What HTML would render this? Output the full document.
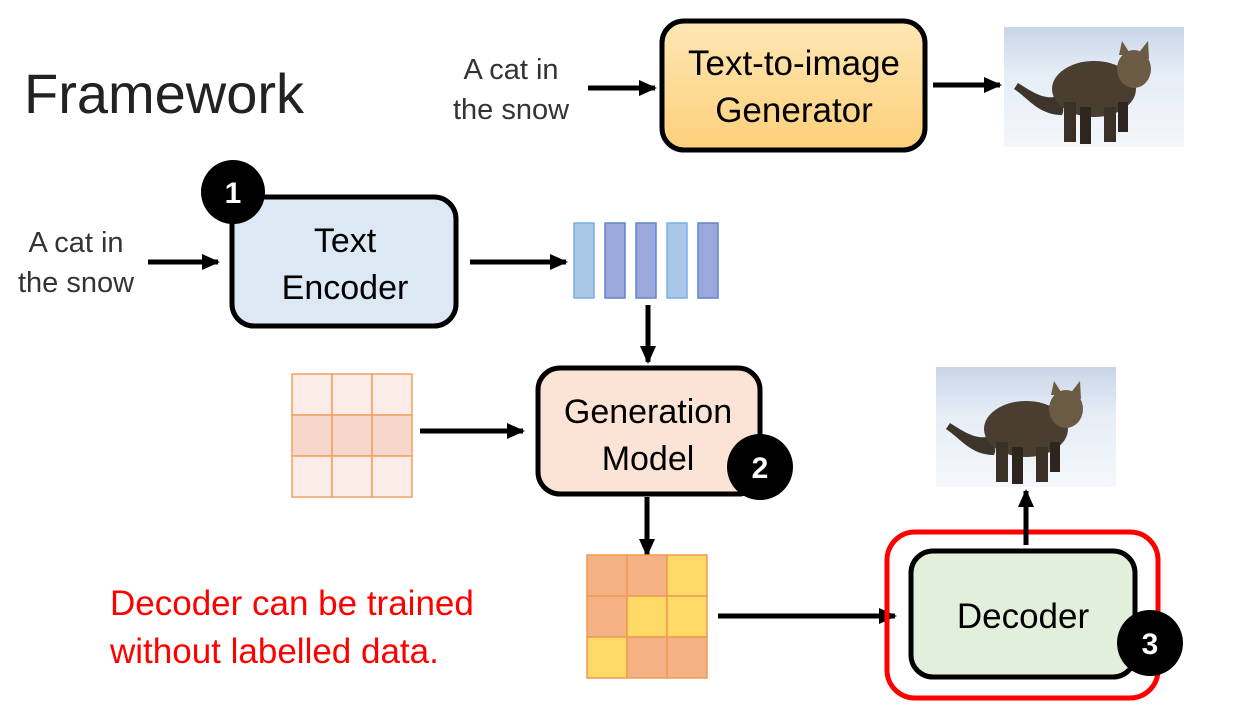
<!DOCTYPE html>
<html><head><meta charset="utf-8"><style>
html,body{margin:0;padding:0;background:#fff;}
svg{display:block;}
text{font-family:"Liberation Sans",sans-serif;}
</style></head><body>
<svg width="1241" height="710" viewBox="0 0 1241 710" xmlns="http://www.w3.org/2000/svg">
<defs>
<marker id="ah" markerWidth="18" markerHeight="16" refX="16" refY="8" orient="auto" markerUnits="userSpaceOnUse" viewBox="0 0 18 16">
<path d="M0,0 L18,8 L0,16 z" fill="#000"/></marker>
<linearGradient id="og" x1="0" y1="0" x2="0" y2="1"><stop offset="0" stop-color="#fde6b4"/><stop offset="1" stop-color="#fdd07a"/></linearGradient>
<linearGradient id="snow" x1="0" y1="0" x2="0" y2="1"><stop offset="0" stop-color="#c9d6e8"/><stop offset="0.4" stop-color="#e6edf6"/><stop offset="1" stop-color="#f4f7fb"/></linearGradient>
<g id="cat">
<rect x="0" y="0" width="180" height="120" fill="url(#snow)"/>
<path d="M10,62 C25,72 35,88 58,88 C62,80 56,74 50,70 C38,72 25,63 14,56 z" fill="#3d342b"/>
<ellipse cx="90" cy="62" rx="42" ry="28" fill="#4a3e31"/>
<ellipse cx="130" cy="42" rx="17" ry="19" fill="#6b5a44"/>
<path d="M115,28 L118,14 L127,28 z M133,28 L144,14 L145,32 z" fill="#6b5a44"/>
<rect x="60" y="75" width="12" height="40" fill="#3a3026"/>
<rect x="76" y="80" width="11" height="37" fill="#2e261e"/>
<rect x="100" y="80" width="12" height="35" fill="#3a3026"/>
<rect x="114" y="75" width="10" height="30" fill="#2e261e"/>
</g>
</defs>

<text x="24" y="113" font-size="56" fill="#222">Framework</text>

<text x="511" y="79" font-size="29" fill="#333" text-anchor="middle">A cat in</text>
<text x="511" y="119" font-size="29" fill="#333" text-anchor="middle">the snow</text>
<line x1="588" y1="88" x2="655" y2="88" stroke="#000" stroke-width="5" marker-end="url(#ah)"/>
<rect x="662" y="21" width="263" height="129" rx="22" fill="url(#og)" stroke="#000" stroke-width="5"/>
<text x="794" y="75" font-size="35" fill="#000" text-anchor="middle">Text-to-image</text>
<text x="794" y="122" font-size="35" fill="#000" text-anchor="middle">Generator</text>
<line x1="933" y1="85" x2="1000" y2="85" stroke="#000" stroke-width="5" marker-end="url(#ah)"/>
<use href="#cat" x="1004" y="27"/>

<text x="76" y="252" font-size="29" fill="#333" text-anchor="middle">A cat in</text>
<text x="76" y="292" font-size="29" fill="#333" text-anchor="middle">the snow</text>
<line x1="148" y1="262" x2="218" y2="262" stroke="#000" stroke-width="5" marker-end="url(#ah)"/>
<rect x="232" y="197" width="224" height="129" rx="22" fill="#dde8f5" stroke="#000" stroke-width="5"/>
<text x="345" y="252" font-size="34" fill="#000" text-anchor="middle">Text</text>
<text x="345" y="299" font-size="34" fill="#000" text-anchor="middle">Encoder</text>
<circle cx="233" cy="192" r="32" fill="#000"/>
<text x="233" y="203" font-size="30" font-weight="bold" fill="#fff" text-anchor="middle">1</text>
<line x1="470" y1="262" x2="566" y2="262" stroke="#000" stroke-width="5" marker-end="url(#ah)"/>

<rect x="574" y="223" width="20" height="75" fill="#a9c8e8" stroke="#7aaee0" stroke-width="1.5"/>
<rect x="605" y="223" width="20" height="75" fill="#9aa8dc" stroke="#6283d0" stroke-width="1.5"/>
<rect x="636" y="223" width="20" height="75" fill="#9aa8dc" stroke="#6283d0" stroke-width="1.5"/>
<rect x="667" y="223" width="20" height="75" fill="#a9c8e8" stroke="#7aaee0" stroke-width="1.5"/>
<rect x="698" y="223" width="20" height="75" fill="#9aa8dc" stroke="#6283d0" stroke-width="1.5"/>

<line x1="648" y1="305" x2="648" y2="362" stroke="#000" stroke-width="5" marker-end="url(#ah)"/>

<g stroke="#f0a060" stroke-width="1.5">
<rect x="292" y="374" width="40" height="41" fill="#fbece7"/>
<rect x="332" y="374" width="40" height="41" fill="#fbece7"/>
<rect x="372" y="374" width="40" height="41" fill="#fbece7"/>
<rect x="292" y="415" width="40" height="41" fill="#f7d7cc"/>
<rect x="332" y="415" width="40" height="41" fill="#f7d7cc"/>
<rect x="372" y="415" width="40" height="41" fill="#f7d7cc"/>
<rect x="292" y="456" width="40" height="41" fill="#fbece7"/>
<rect x="332" y="456" width="40" height="41" fill="#fbece7"/>
<rect x="372" y="456" width="40" height="41" fill="#fbece7"/>
</g>
<line x1="420" y1="431" x2="523" y2="431" stroke="#000" stroke-width="5" marker-end="url(#ah)"/>

<rect x="538" y="368" width="222" height="126" rx="22" fill="#fbe4d6" stroke="#000" stroke-width="5"/>
<text x="648" y="423" font-size="34" fill="#000" text-anchor="middle">Generation</text>
<text x="648" y="470" font-size="34" fill="#000" text-anchor="middle">Model</text>
<circle cx="760" cy="467" r="33" fill="#000"/>
<text x="760" y="478" font-size="30" font-weight="bold" fill="#fff" text-anchor="middle">2</text>

<line x1="647" y1="497" x2="647" y2="555" stroke="#000" stroke-width="5" marker-end="url(#ah)"/>

<g stroke="#ed9a55" stroke-width="1.5">
<rect x="587" y="555" width="40" height="41" fill="#f4b183"/>
<rect x="627" y="555" width="40" height="41" fill="#f4b183"/>
<rect x="667" y="555" width="40" height="41" fill="#ffd966"/>
<rect x="587" y="596" width="40" height="41" fill="#f4b183"/>
<rect x="627" y="596" width="40" height="41" fill="#ffd966"/>
<rect x="667" y="596" width="40" height="41" fill="#ffd966"/>
<rect x="587" y="637" width="40" height="41" fill="#ffd966"/>
<rect x="627" y="637" width="40" height="41" fill="#f4b183"/>
<rect x="667" y="637" width="40" height="41" fill="#f4b183"/>
</g>

<text x="110" y="615" font-size="35" fill="#ff0000">Decoder can be trained</text>
<text x="110" y="663" font-size="35" fill="#ff0000">without labelled data.</text>

<line x1="718" y1="616" x2="895" y2="616" stroke="#000" stroke-width="5" marker-end="url(#ah)"/>
<rect x="887" y="532" width="271" height="166" rx="28" fill="none" stroke="#ff0000" stroke-width="5"/>
<rect x="911" y="551" width="224" height="126" rx="22" fill="#e2efda" stroke="#000" stroke-width="5"/>
<text x="1023" y="628" font-size="35" fill="#000" text-anchor="middle">Decoder</text>
<circle cx="1150" cy="643" r="33" fill="#000"/>
<text x="1150" y="654" font-size="30" font-weight="bold" fill="#fff" text-anchor="middle">3</text>
<line x1="1026" y1="545" x2="1026" y2="491" stroke="#000" stroke-width="5" marker-end="url(#ah)"/>
<use href="#cat" x="936" y="367"/>
</svg>
</body></html>
